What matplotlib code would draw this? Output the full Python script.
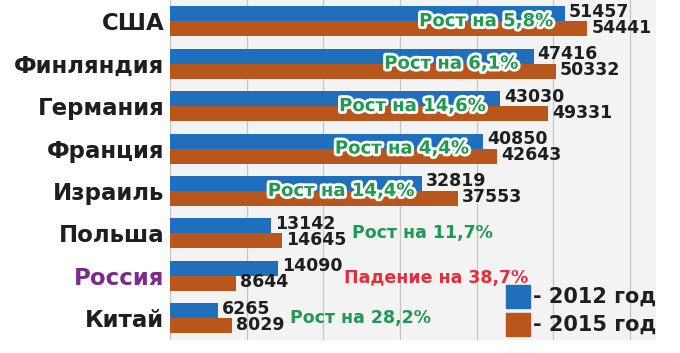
import matplotlib.pyplot as plt
import matplotlib.patheffects as pe
from matplotlib.patches import Rectangle
import numpy as np

# data
countries = ['США', 'Финляндия', 'Германия', 'Франция', 'Израиль', 'Польша', 'Россия', 'Китай']
values_2012 = [51457, 47416, 43030, 40850, 32819, 13142, 14090, 6265]
values_2015 = [54441, 50332, 49331, 42643, 37553, 14645, 8644, 8029]
changes = ['Рост на 5,8%', 'Рост на 6,1%', 'Рост на 14,6%', 'Рост на 4,4%', 'Рост на 14,4%',
           'Рост на 11,7%', 'Падение на 38,7%', 'Рост на 28,2%']
legend_labels = ['- 2012 год', '- 2015 год']

blue = '#1f6fbd'
orange = '#b9561b'
green = '#1f9a50'
red = '#e0303a'
purple = '#7d2a8c'

fig = plt.figure(figsize=(6.8, 3.53), dpi=100)
ax = fig.add_axes([0.25, 0.037, 0.715, 0.963])
ax.set_facecolor('#f3f3f3')

y = np.arange(len(countries))
h = 0.353
ax.barh(y - h / 2, values_2012, height=h, color=blue, zorder=2)
ax.barh(y + h / 2, values_2015, height=h, color=orange, zorder=2)

ax.set_xlim(0, 63400)
ax.set_ylim(len(countries) - 0.49, -0.5)
ax.set_xticks(np.arange(0, 60001, 10000))
ax.xaxis.grid(True, color='#c4c4c4', linewidth=0.9, zorder=0)
ax.tick_params(axis='x', length=0, labelbottom=False)
ax.tick_params(axis='y', length=0, pad=4)
for s in ax.spines.values():
    s.set_visible(False)

ax.set_yticks(y)
ax.set_yticklabels(countries, fontsize=16.5, fontweight='bold', color='#1e1e1e')
for lbl in ax.get_yticklabels():
    if lbl.get_text() == 'Россия':
        lbl.set_color(purple)

# value labels
for i in range(len(countries)):
    ax.annotate(str(values_2012[i]), (values_2012[i], y[i] - h / 2), xytext=(4, 2),
                textcoords='offset pixels', va='center', ha='left',
                fontsize=12.5, fontweight='bold', color='#1e1e1e', zorder=4)
    ax.annotate(str(values_2015[i]), (values_2015[i], y[i] + h / 2), xytext=(4, 1),
                textcoords='offset pixels', va='center', ha='left',
                fontsize=12.5, fontweight='bold', color='#1e1e1e', zorder=4)

# change labels
stroke = [pe.withStroke(linewidth=4, foreground='white')]
inside_offsets = [-12, -16, -15, -15, -8]
for i, off in enumerate(inside_offsets):
    ax.annotate(changes[i], (values_2012[i], y[i]), xytext=(off, 0),
                textcoords='offset pixels', va='center', ha='right',
                fontsize=13, fontweight='bold', color=green, path_effects=stroke, zorder=5)

outside_x = [23700, 22700, 15600]
outside_y = [0, 0.05, 0]
outside_col = [green, red, green]
for j, i in enumerate(range(5, 8)):
    ax.text(outside_x[j], y[i] + outside_y[j], changes[i], va='center', ha='left',
            fontsize=12.5, fontweight='bold', color=outside_col[j], zorder=5)

# legend
leg_y = [0.128, 0.048]
for k, col in enumerate([blue, orange]):
    fig.patches.append(Rectangle((506 / 680, leg_y[k]), 24 / 680, 23 / 353,
                                 transform=fig.transFigure, color=col, zorder=6))
    fig.text(533 / 680, leg_y[k] + 11 / 353, legend_labels[k], va='center', ha='left',
             fontsize=15, fontweight='bold', color='#1e1e1e')

fig.savefig('out.png', dpi=100)
